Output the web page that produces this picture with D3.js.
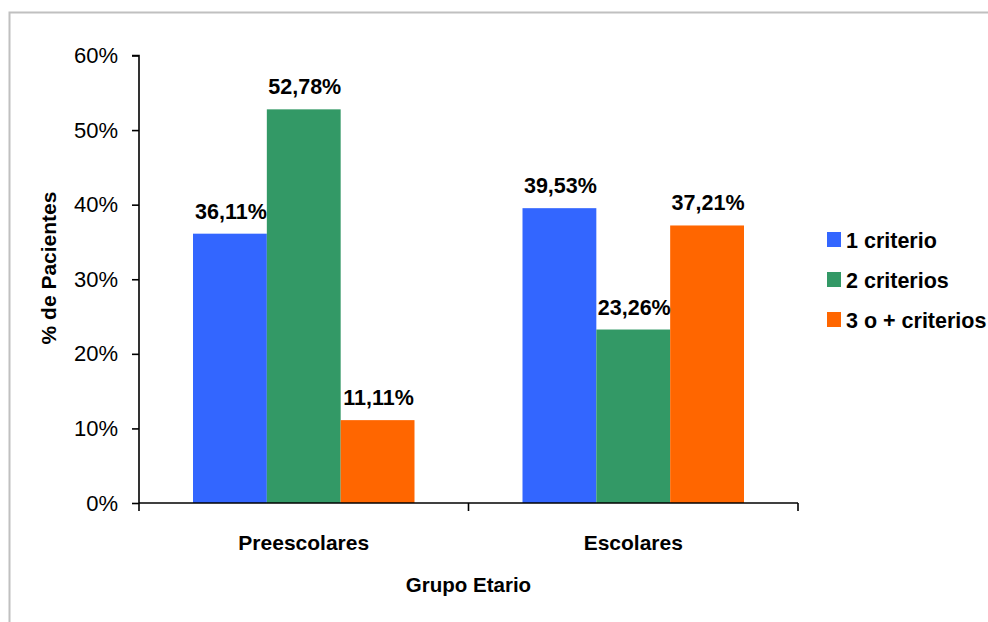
<!DOCTYPE html>
<html>
<head>
<meta charset="utf-8">
<script src="https://cdn.jsdelivr.net/npm/d3@7"></script>
<style>
  html, body { margin: 0; padding: 0; background: #fff; }
  svg { display: block; font-family: "Liberation Sans", Arial, sans-serif; }
</style>
</head>
<body>
<svg id="chart" width="988" height="622"></svg>
<script>
const categories = ["Preescolares", "Escolares"];
const seriesNames = ["1 criterio", "2 criterios", "3 o + criterios"];
const seriesColors = ["#3366FF", "#339966", "#FF6600"];
const values1 = [36.11, 39.53];
const values2 = [52.78, 23.26];
const values3 = [11.11, 37.21];
const labels1 = ["36,11%", "39,53%"];
const labels2 = ["52,78%", "23,26%"];
const labels3 = ["11,11%", "37,21%"];
const yTicks = [0, 10, 20, 30, 40, 50, 60];
const yTickLabels = ["0%", "10%", "20%", "30%", "40%", "50%", "60%"];
const yTitle = "% de Pacientes";
const xTitle = "Grupo Etario";

(function () {
const seriesValues = [values1, values2, values3];
const seriesLabels = [labels1, labels2, labels3];

const svg = d3.select("#chart");

// outer border
svg.append("rect")
  .attr("x", 9.5).attr("y", 12.5)
  .attr("width", 1000).attr("height", 700)
  .attr("fill", "none").attr("stroke", "#c0c0c0").attr("stroke-width", 2);

const pLeft = 139, pRight = 798, pTop = 55.5, pBottom = 503;
const y = d3.scaleLinear().domain([0, 60]).range([pBottom, pTop]);
const x0 = d3.scaleBand().domain(categories).range([pLeft, pRight]).padding(0);
const x1 = d3.scaleBand().domain(d3.range(seriesNames.length))
  .range([54, x0.bandwidth() - 54]).padding(0);

const data = [];
categories.forEach((c, ci) => {
  seriesNames.forEach((s, si) => {
    data.push({cat: c, si: si, v: seriesValues[si][ci], label: seriesLabels[si][ci]});
  });
});

const g = svg.append("g");
g.selectAll("rect.bar").data(data).enter().append("rect")
  .attr("class", "bar")
  .attr("x", d => x0(d.cat) + x1(d.si))
  .attr("width", x1.bandwidth())
  .attr("y", d => y(d.v))
  .attr("height", d => y(0) - y(d.v))
  .attr("fill", d => seriesColors[d.si]);

g.selectAll("text.val").data(data).enter().append("text")
  .attr("class", "val")
  .attr("x", d => x0(d.cat) + x1(d.si) + x1.bandwidth() / 2 + 1)
  .attr("y", d => y(d.v) - 15)
  .attr("text-anchor", "middle")
  .attr("font-size", 21.5).attr("font-weight", "bold").attr("fill", "#000")
  .text(d => d.label);

// y axis
const yAxis = d3.axisLeft(y).tickValues(yTicks)
  .tickFormat((d, i) => yTickLabels[i]).tickSize(7).tickPadding(14);
const ya = svg.append("g").attr("transform", `translate(${pLeft},0)`).call(yAxis);
ya.select(".domain").attr("stroke", "#000").attr("stroke-width", 1.6)
  .attr("d", `M-7,${pTop}H0V${pBottom}`);
ya.selectAll(".tick line").attr("stroke", "#000").attr("stroke-width", 1.6);
ya.selectAll(".tick text").attr("font-size", 22).attr("fill", "#000")
  .attr("font-family", "'Liberation Sans', Arial, sans-serif");

// x axis
const xa = svg.append("g").attr("transform", `translate(0,${pBottom})`);
xa.append("line").attr("x1", pLeft).attr("x2", pRight).attr("y1", 0).attr("y2", 0)
  .attr("stroke", "#000").attr("stroke-width", 1.6);
const xTickPos = [pLeft, ...categories.slice(1).map(c => x0(c)), pRight];
xa.selectAll("line.xt").data(xTickPos).enter().append("line")
  .attr("class", "xt")
  .attr("x1", d => d).attr("x2", d => d).attr("y1", 0).attr("y2", 8)
  .attr("stroke", "#000").attr("stroke-width", 1.6);
xa.selectAll("text.cat").data(categories).enter().append("text")
  .attr("class", "cat")
  .attr("x", d => x0(d) + x0.bandwidth() / 2)
  .attr("y", 47)
  .attr("text-anchor", "middle")
  .attr("font-size", 21).attr("font-weight", "bold").attr("fill", "#000")
  .text(d => d);

// axis titles
svg.append("text")
  .attr("x", (pLeft + pRight) / 2).attr("y", 592)
  .attr("text-anchor", "middle")
  .attr("font-size", 20.5).attr("font-weight", "bold")
  .text(xTitle);
svg.append("text")
  .attr("transform", `translate(56,268) rotate(-90)`)
  .attr("text-anchor", "middle")
  .attr("font-size", 21).attr("font-weight", "bold")
  .text(yTitle);

// legend
const lg = svg.append("g").attr("transform", "translate(827,232)");
const li = lg.selectAll("g").data(seriesNames).enter().append("g")
  .attr("transform", (d, i) => `translate(0,${i * 40})`);
li.append("rect").attr("width", 14).attr("height", 15)
  .attr("fill", (d, i) => seriesColors[i]);
li.append("text").attr("x", 19).attr("y", 15.5)
  .attr("font-size", 21.5).attr("font-weight", "bold")
  .text(d => d);
})();
</script>
</body>
</html>
